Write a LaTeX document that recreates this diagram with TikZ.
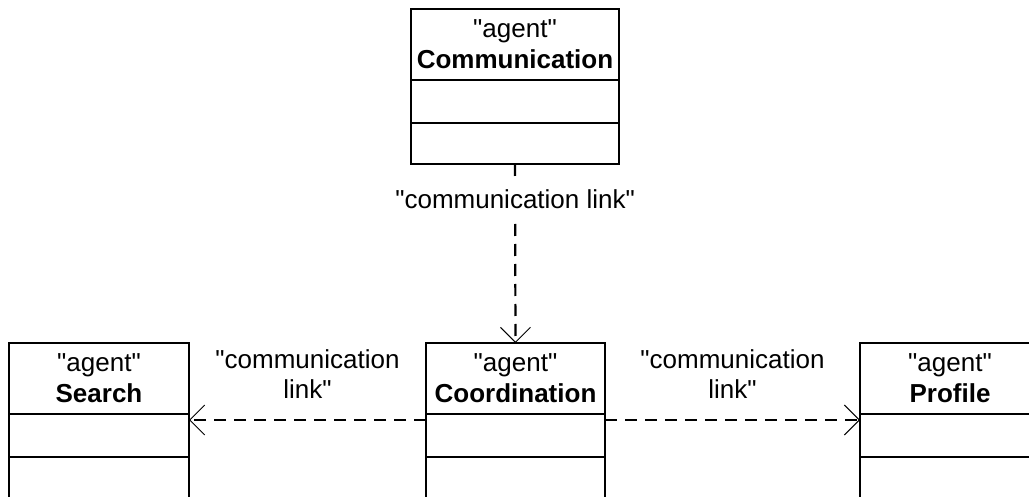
\documentclass[tikz,border=0pt]{standalone}
\usepackage{fontspec}
\setmainfont{Liberation Sans}
\usetikzlibrary{positioning,arrows.meta}
\newcommand\qt{\textquotedbl}

\begin{document}
\begin{tikzpicture}[x=1pt,y=-1pt,
    every node/.style={font=\fontsize{26}{31}\selectfont, outer sep=0pt},
    head/.style={draw, line width=1.8pt, minimum height=71pt, inner sep=0pt, align=center},
    slot/.style={draw, line width=1.8pt, minimum height=#1, inner sep=0pt},
    link/.style={line width=2.2pt, dash pattern=on 12pt off 8pt,
        -{Straight Barb[length=15pt,width=30pt,line width=1pt]}},
    lbl/.style={align=center, inner sep=2pt}]
    \useasboundingbox (0,0) rectangle (1029,497);
    \clip (0,0) rectangle (1029,497);

    % agents
    \node[head, minimum width=208pt] (comm) at (515,44.5) {\qt agent\qt\\\bfseries Communication};
    \node[slot=43pt, minimum width=208pt, below=0pt of comm] (comm1) {};
    \node[slot=41pt, minimum width=208pt, below=0pt of comm1] (comm2) {};

    \node[head, minimum width=179pt] (coord) at (515.5,378.5) {\qt agent\qt\\\bfseries Coordination};
    \node[slot=43pt, minimum width=179pt, below=0pt of coord] (coord1) {};
    \node[slot=41pt, minimum width=179pt, below=0pt of coord1] (coord2) {};

    \node[head, minimum width=180pt] (search) at (99,378.5) {\qt agent\qt\\\bfseries Search};
    \node[slot=43pt, minimum width=180pt, below=0pt of search] (search1) {};
    \node[slot=41pt, minimum width=180pt, below=0pt of search1] (search2) {};

    \node[head, minimum width=180pt] (prof) at (950,378.5) {\qt agent\qt\\\bfseries Profile};
    \node[slot=43pt, minimum width=180pt, below=0pt of prof] (prof1) {};
    \node[slot=41pt, minimum width=180pt, below=0pt of prof1] (prof2) {};

    % links
    \draw[link] (comm2.south) -- node[lbl, pos=0.196, fill=white, inner ysep=10pt]{\qt communication link\qt} (coord.north);
    \draw[link] ([yshift=-6pt]coord.south west) -- node[lbl, above=19pt]{\qt communication\\link\qt} ([yshift=-6pt]search.south east);
    \draw[link] ([yshift=-6pt]coord.south east) -- node[lbl, above=19pt]{\qt communication\\link\qt} ([yshift=-6pt]prof.south west);
\end{tikzpicture}
\end{document}
